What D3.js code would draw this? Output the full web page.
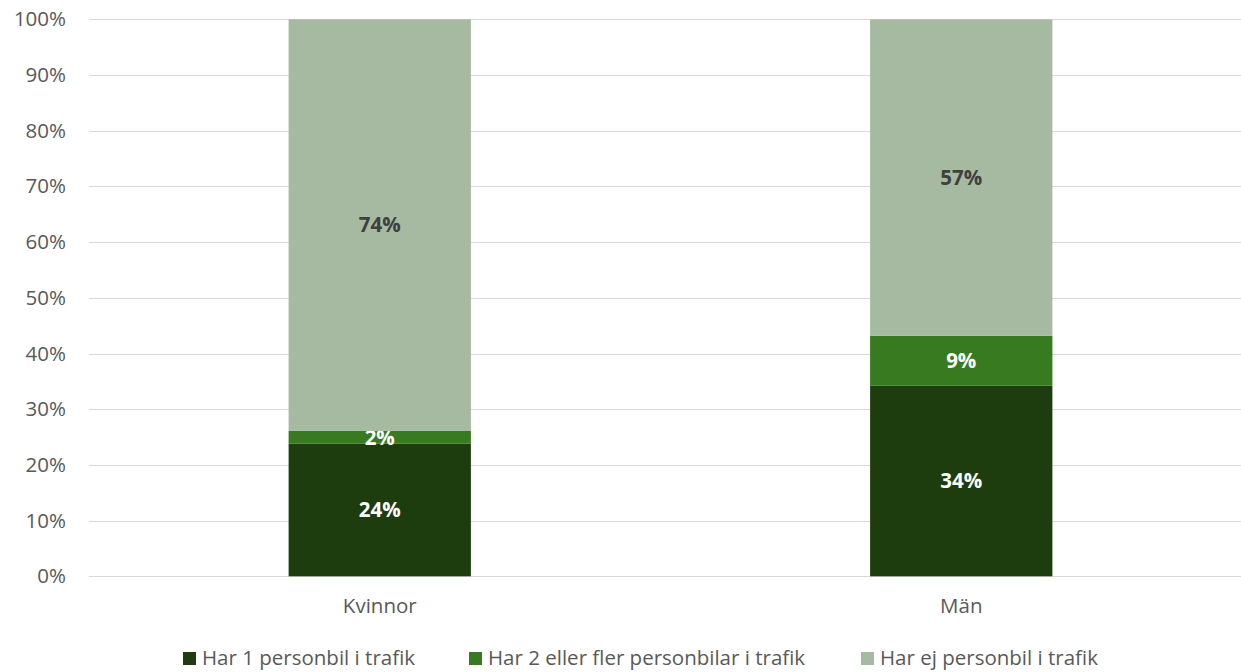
<!DOCTYPE html>
<html>
<head>
<meta charset="utf-8">
<script src="https://cdn.jsdelivr.net/npm/d3@7"></script>
<style>
  html, body { margin: 0; padding: 0; background: #fff; }
  svg { display: block; font-family: "Open Sans", "Noto Sans", sans-serif; }
</style>
</head>
<body>
<svg id="chart" width="1241" height="672"></svg>
<script>
// Andel med personbil i trafik, per kön
const categories = ["Kvinnor", "Män"];
const seriesNames = ["Har 1 personbil i trafik", "Har 2 eller fler personbilar i trafik", "Har ej personbil i trafik"];
const oneCar = [23.8, 34.2];
const twoOrMore = [2.3, 9.0];
const noCar = [73.9, 56.8];
const labelsOne = ["24%", "34%"];
const labelsTwo = ["2%", "9%"];
const labelsNone = ["74%", "57%"];
const yTicks = [0, 10, 20, 30, 40, 50, 60, 70, 80, 90, 100];

const colors = ["#1d3d0f", "#377a20", "#a6b9a1"];
const labelColors = ["#ffffff", "#ffffff", "#404040"];
const fontSize = "20.5px";

const svg = d3.select("#chart");

const y = d3.scaleLinear().domain([0, 100]).range([576.3, 19.3]);
const x = d3.scaleBand().domain(categories).range([89, 1252]).padding(0);
const barW = x.bandwidth() / 3.19;

// gridlines
svg.append("g")
  .selectAll("line")
  .data(yTicks)
  .join("line")
  .attr("x1", 89).attr("x2", 1241)
  .attr("y1", d => Math.round(y(d)) + 0.5)
  .attr("y2", d => Math.round(y(d)) + 0.5)
  .attr("stroke", "#d9d9d9")
  .attr("stroke-width", 1);

// y axis labels
const yAxis = d3.axisLeft(y).tickValues(yTicks).tickFormat(d => d + "%").tickSize(0).tickPadding(0);
const yg = svg.append("g").attr("transform", "translate(66,0)").call(yAxis);
yg.select(".domain").remove();
yg.selectAll("text").attr("fill", "#595959").style("font-size", fontSize).style("font-family", "'Open Sans', sans-serif");

// stacked data
const rows = categories.map((c, i) => ({ cat: c, s0: oneCar[i], s1: twoOrMore[i], s2: noCar[i], l: [labelsOne[i], labelsTwo[i], labelsNone[i]] }));
const stack = d3.stack().keys(["s0", "s1", "s2"]);
const stacked = stack(rows);

stacked.forEach((layer, k) => {
  const g = svg.append("g");
  g.selectAll("rect")
    .data(layer)
    .join("rect")
    .attr("x", d => x(d.data.cat) + x.bandwidth() / 2 - barW / 2)
    .attr("width", barW)
    .attr("y", d => y(d[1]))
    .attr("height", d => y(d[0]) - y(d[1]))
    .attr("fill", colors[k]);
  g.selectAll("text")
    .data(layer)
    .join("text")
    .attr("x", d => x(d.data.cat) + x.bandwidth() / 2)
    .attr("y", d => (y(d[0]) + y(d[1])) / 2)
    .attr("dy", "0.36em")
    .attr("text-anchor", "middle")
    .attr("fill", labelColors[k])
    .style("font-size", fontSize)
    .style("font-weight", "bold")
    .text(d => d.data.l[k]);
});

// x axis labels
const xAxis = d3.axisBottom(x).tickSize(0).tickPadding(0);
const xg = svg.append("g").attr("transform", "translate(0,598)").call(xAxis);
xg.select(".domain").remove();
xg.selectAll("text").attr("fill", "#595959").style("font-size", fontSize).attr("dy", "0.71em").style("font-family", "'Open Sans', sans-serif");

// legend
const legendX = [183, 469, 861];
const lg = svg.append("g");
seriesNames.forEach((name, i) => {
  lg.append("rect").attr("x", legendX[i]).attr("y", 652).attr("width", 13).attr("height", 13).attr("fill", colors[i]);
  lg.append("text").attr("x", legendX[i] + 19).attr("y", 658.5).attr("dy", "0.34em")
    .attr("fill", "#595959").style("font-size", fontSize).text(name);
});
</script>
</body>
</html>
